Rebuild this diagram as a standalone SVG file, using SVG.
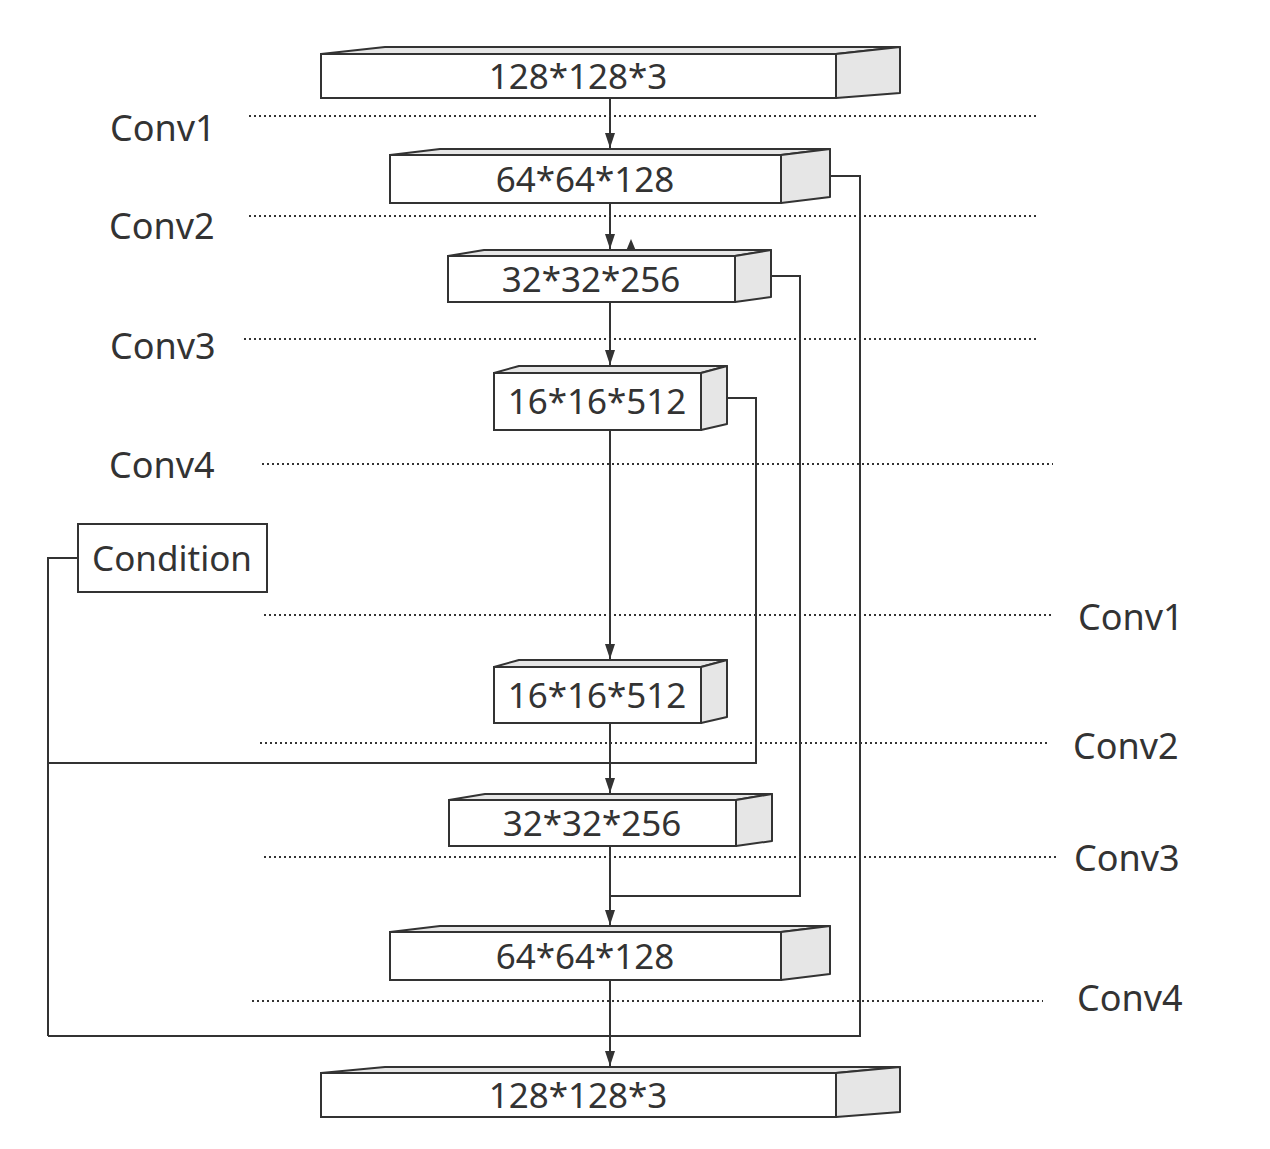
<svg xmlns="http://www.w3.org/2000/svg" width="1270" height="1149" viewBox="0 0 1270 1149">
<defs>
<marker id="arr" viewBox="0 0 15 10" refX="15" refY="5" markerWidth="15" markerHeight="10" markerUnits="userSpaceOnUse" orient="auto">
<path d="M0,0 L15,5 L0,10 Z" fill="#333"/>
</marker>
</defs>
<style>
.front{fill:#fff;stroke:#333;stroke-width:2}
.side{fill:#e6e6e6;stroke:#333;stroke-width:2;stroke-linejoin:round}
.lbl{font-family:"Noto Sans","DejaVu Sans",sans-serif;font-size:35px;fill:#333;text-anchor:middle;dominant-baseline:central}
.conv{font-family:"Noto Sans","DejaVu Sans",sans-serif;font-size:36px;fill:#333;dominant-baseline:central}
.dot{stroke:#333;stroke-width:2;stroke-dasharray:2 3;fill:none}
.ln{stroke:#333;stroke-width:2;fill:none}
.ar{stroke:#333;stroke-width:2;fill:none;marker-end:url(#arr)}
</style>
<rect width="1270" height="1149" fill="#fff"/>
<g id="dividers">
<line class="dot" x1="249" y1="116" x2="1036" y2="116"/>
<line class="dot" x1="249" y1="216" x2="1036" y2="216"/>
<line class="dot" x1="244" y1="339" x2="1036" y2="339"/>
<line class="dot" x1="262" y1="464" x2="1053" y2="464"/>
<line class="dot" x1="264" y1="615" x2="1052" y2="615"/>
<line class="dot" x1="260" y1="743" x2="1047" y2="743"/>
<line class="dot" x1="264" y1="857" x2="1056" y2="857"/>
<line class="dot" x1="252" y1="1001" x2="1043" y2="1001"/>
<text class="conv" x="110" y="127">Conv1</text>
<text class="conv" x="109" y="225">Conv2</text>
<text class="conv" x="110" y="345">Conv3</text>
<text class="conv" x="109" y="464">Conv4</text>
<text class="conv" x="1078" y="616">Conv1</text>
<text class="conv" x="1073" y="745">Conv2</text>
<text class="conv" x="1074" y="857">Conv3</text>
<text class="conv" x="1077" y="997">Conv4</text>
</g>
<g id="connectors">
<line class="ar" x1="610" y1="98" x2="610" y2="148"/>
<line class="ar" x1="610" y1="203" x2="610" y2="249"/>
<line class="ar" x1="610" y1="302" x2="610" y2="365"/>
<line class="ar" x1="610" y1="430" x2="610" y2="659"/>
<line class="ar" x1="610" y1="723" x2="610" y2="793"/>
<line class="ar" x1="610" y1="846" x2="610" y2="925"/>
<line class="ar" x1="610" y1="980" x2="610" y2="1066"/>
<path d="M626,251 L631,239 L636,251 Z" fill="#333"/>
<polyline class="ln" points="830,176 860,176 860,1036 48,1036"/>
<polyline class="ln" points="771,276 800,276 800,896 610,896"/>
<polyline class="ln" points="727,398 756,398 756,763 48,763"/>
<polyline class="ln" points="78,558 48,558 48,1036"/>
</g>
<g id="n1">
<polygon class="side" points="321,54 385,47 900,47 836,54"/>
<polygon class="side" points="836,54 900,47 900,93 836,98"/>
<rect class="front" x="321" y="54" width="515" height="44"/>
<text class="lbl" x="578" y="75">128*128*3</text>
</g>
<g id="n2">
<polygon class="side" points="390,155 440,149 830,149 781,155"/>
<polygon class="side" points="781,155 830,149 830,197 781,203"/>
<rect class="front" x="390" y="155" width="391" height="48"/>
<text class="lbl" x="585" y="178">64*64*128</text>
</g>
<g id="n3">
<polygon class="side" points="448,256 484,250 771,250 735,256"/>
<polygon class="side" points="735,256 771,250 771,297 735,302"/>
<rect class="front" x="448" y="256" width="287" height="46"/>
<text class="lbl" x="591" y="278">32*32*256</text>
</g>
<g id="n4">
<polygon class="side" points="494,373 519,366 727,366 701,373"/>
<polygon class="side" points="701,373 727,366 727,424 701,430"/>
<rect class="front" x="494" y="373" width="207" height="57"/>
<text class="lbl" x="597" y="400">16*16*512</text>
</g>
<g id="n5">
<polygon class="side" points="494,667 519,660 727,660 701,667"/>
<polygon class="side" points="701,667 727,660 727,717 701,723"/>
<rect class="front" x="494" y="667" width="207" height="56"/>
<text class="lbl" x="597" y="694">16*16*512</text>
</g>
<g id="n6">
<polygon class="side" points="449,800 485,794 772,794 736,800"/>
<polygon class="side" points="736,800 772,794 772,841 736,846"/>
<rect class="front" x="449" y="800" width="287" height="46"/>
<text class="lbl" x="592" y="822">32*32*256</text>
</g>
<g id="n7">
<polygon class="side" points="390,932 440,926 830,926 781,932"/>
<polygon class="side" points="781,932 830,926 830,974 781,980"/>
<rect class="front" x="390" y="932" width="391" height="48"/>
<text class="lbl" x="585" y="955">64*64*128</text>
</g>
<g id="n8">
<polygon class="side" points="321,1073 385,1067 900,1067 836,1073"/>
<polygon class="side" points="836,1073 900,1067 900,1112 836,1117"/>
<rect class="front" x="321" y="1073" width="515" height="44"/>
<text class="lbl" x="578" y="1094">128*128*3</text>
</g>
<g id="condition">
<rect class="front" x="78" y="524" width="189" height="68"/>
<text class="lbl" x="172" y="557">Condition</text>
</g>
</svg>
